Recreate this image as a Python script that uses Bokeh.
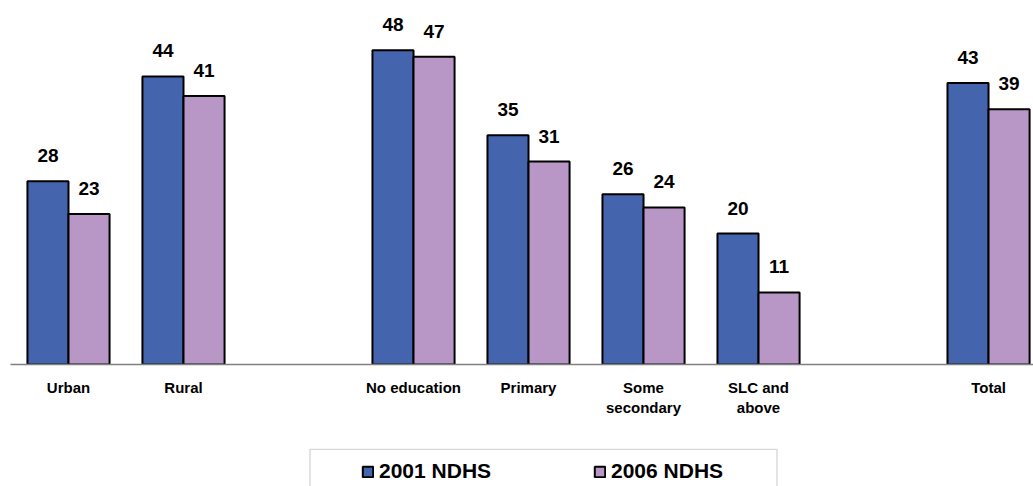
from bokeh.plotting import figure
from bokeh.layouts import column
from bokeh.models import (FixedTicker, Legend, LegendItem, BoxAnnotation,
                          ColumnDataSource, Range1d)
from bokeh.core.properties import value
from bokeh.embed import file_html
from bokeh.resources import INLINE

# ---- data ----
groups = [["Urban", "Rural"],
          ["No education", "Primary", "Some secondary", "SLC and above"],
          ["Total"]]
tick_text = {"Some secondary": "Some\nsecondary", "SLC and above": "SLC and\nabove"}
ndhs_2001 = [28, 44, 48, 35, 26, 20, 43]
ndhs_2006 = [23, 41, 47, 31, 24, 11, 39]
series_names = ["2001 NDHS", "2006 NDHS"]
colors = ["#4464AD", "#B896C6"]

# ---- layout of category slots (one empty slot between groups) ----
categories, positions = [], []
slot = 0
for g in groups:
    for c in g:
        categories.append(c)
        positions.append(slot)
        slot += 1
    slot += 1

FONT = "Liberation Sans"
bar_w = 0.357
offsets = [-bar_w / 2, bar_w / 2]
X0, X1 = -0.5043, 8.391

p = figure(width=1033, height=448,
           x_range=Range1d(X0, X1), y_range=Range1d(0, 55.6),
           output_backend="svg", toolbar_location=None,
           min_border_left=10, min_border_right=0, min_border_top=0,
           min_border_bottom=84)
p.outline_line_color = None
p.xgrid.visible = False
p.ygrid.visible = False
p.yaxis.visible = False
p.background_fill_color = "white"

sources = []
for vals, off, col in zip([ndhs_2001, ndhs_2006], offsets, colors):
    src = ColumnDataSource(dict(x=[pp + off for pp in positions], top=vals,
                                lab=[str(v) for v in vals]))
    sources.append(src)
    p.vbar(x="x", top="top", width=bar_w, source=src, fill_color=col,
           line_color="black", line_width=2)
    p.text(x="x", y="top", text="lab", source=src, text_align="center",
           text_baseline="bottom", y_offset=-19, text_font=value(FONT),
           text_font_style="bold", text_font_size="19px", text_color="black")

ax = p.xaxis[0]
ax.ticker = FixedTicker(ticks=positions)
ax.major_label_overrides = {pp: tick_text.get(c, c) for pp, c in zip(positions, categories)}
ax.major_tick_line_color = None
ax.minor_tick_line_color = None
ax.major_tick_out = 0
ax.major_tick_in = 0
ax.major_label_standoff = 14
ax.axis_line_color = "#808080"
ax.axis_line_width = 1.5
ax.major_label_text_font = FONT
ax.major_label_text_font_style = "bold"
ax.major_label_text_font_size = "15px"
ax.major_label_text_color = "black"

# ---- legend panel (its frame lines up with the chart's frame) ----
q = figure(width=1033, height=38, x_range=Range1d(X0, X1), y_range=Range1d(0, 55.6),
           x_axis_type=None, y_axis_type=None,
           output_backend="svg", toolbar_location=None,
           min_border_left=10, min_border_right=0, min_border_top=0,
           min_border_bottom=0)
q.outline_line_color = None
q.xgrid.visible = False
q.ygrid.visible = False

keys = []
for src, col in zip(sources, colors):
    # hidden copies of the bar series, used only as legend keys
    keys.append(q.vbar(x="x", top="top", width=bar_w, source=src, fill_color=col,
                       line_color="black", line_width=2, visible=False))

legend = Legend(items=[LegendItem(label=n, renderers=[r]) for n, r in zip(series_names, keys)],
                orientation="horizontal", location=(351, 3),
                padding=0, margin=0, spacing=20, label_width=194,
                glyph_width=13, glyph_height=13, label_standoff=5,
                label_text_font=FONT, label_text_font_style="bold",
                label_text_font_size="21px", label_text_color="black",
                border_line_color=None, background_fill_alpha=0,
                click_policy="none")
q.add_layout(legend)

box = BoxAnnotation(left=309.5, right=776.5, top=0.75, bottom=200,
                    left_units="canvas", right_units="canvas",
                    top_units="canvas", bottom_units="canvas",
                    fill_color=None, fill_alpha=0,
                    line_color="#808080", line_width=1.5)
q.add_layout(box)

layout = column(p, q, spacing=0)
open("out.html", "w").write(file_html(layout, INLINE))
